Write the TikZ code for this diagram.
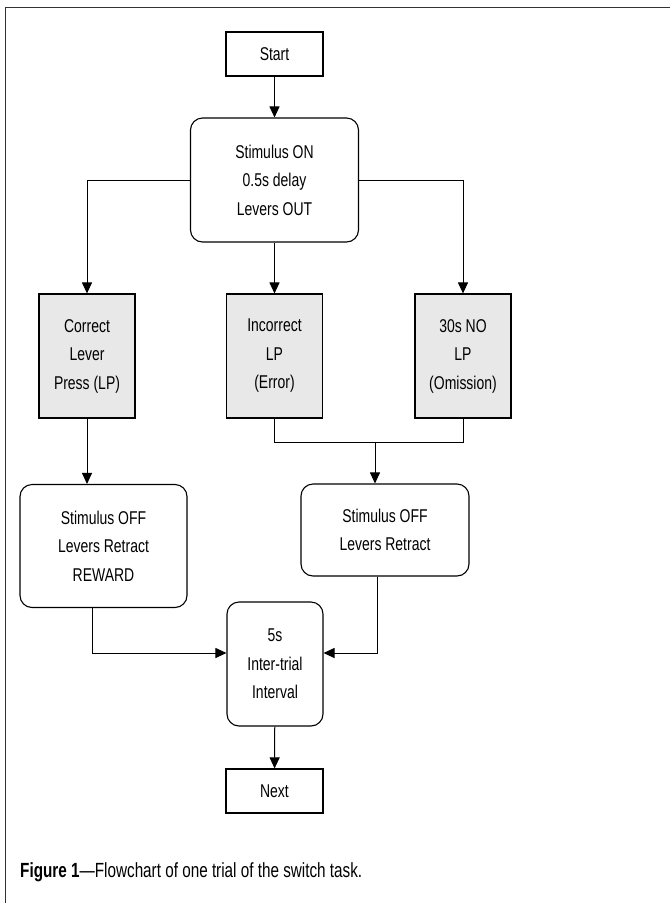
\documentclass[tikz,border=0pt]{standalone}
\usepackage{fontspec}
\setmainfont[FakeStretch=0.755]{Liberation Sans}
\newfontfamily\capfont[FakeStretch=0.745]{Liberation Sans}
\usetikzlibrary{arrows.meta}
\begin{document}
\begin{tikzpicture}[x=1pt,y=-1pt,
  every node/.style={font=\fontsize{18.5}{28.5}\selectfont, align=center, inner sep=0pt},
  sqbox/.style={draw, line width=1.1pt, minimum width=97pt, minimum height=44pt},
  rbox/.style={draw, line width=1.1pt, rounded corners=12pt},
  gbox/.style={draw, line width=1.1pt, fill=gray!18, minimum width=96pt, minimum height=124pt},
  arr/.style={line width=1pt, -{Triangle[length=11pt,width=10pt]}},
  ln/.style={line width=1pt}]
\useasboundingbox (0,0) rectangle (670,903);
\draw[line width=0.9pt, black!80] (5,903) -- (5,7) -- (670,7);

\node[sqbox] (start) at (274.5,54) {Start};
\node[rbox, minimum width=168pt, minimum height=124pt] (stim) at (274.5,180) {Stimulus ON\\0.5s delay\\Levers OUT};
\node[gbox] (c1) at (87,356) {Correct\\Lever\\Press (LP)};
\node[gbox] (c2) at (274.5,356) {Incorrect\\LP\\(Error)};
\node[gbox] (c3) at (463,356) {30s NO\\LP\\(Omission)};
\node[rbox, minimum width=167pt, minimum height=123pt] (l2) at (103.5,546) {Stimulus OFF\\Levers Retract\\REWARD};
\node[rbox, minimum width=168pt, minimum height=92pt] (r2) at (385,530) {Stimulus OFF\\Levers Retract};
\node[rbox, minimum width=96pt, minimum height=124pt] (iti) at (275,664) {5s\\Inter-trial\\Interval};
\node[sqbox] (next) at (274.5,791) {Next};
\node[anchor=base west, font=\capfont\fontsize{20.5}{24}\selectfont] (cap) at (20,877) {\textbf{Figure 1}—Flowchart of one trial of the switch task.};

\coordinate (m) at (375,442);
\coordinate (hl) at (92,653);
\coordinate (hr) at (377,653);

\draw[arr] (start) -- (stim);
\draw[arr] (stim.west) -| (c1.north);
\draw[arr] (stim.east) -| (c3.north);
\draw[arr] (stim) -- (c2);
\draw[arr] (c1) -- (c1 |- l2.north);
\draw[ln] (c2.south) |- (c3.south |- m) -- (c3.south);
\draw[arr] (m) -- (m |- r2.north);
\draw[arr] (hl |- l2.south) -- (hl) -- (iti.west |- hl);
\draw[arr] (hr |- r2.south) -- (hr) -- (iti.east |- hr);
\draw[arr] (iti) -- (next);
\end{tikzpicture}
\end{document}
